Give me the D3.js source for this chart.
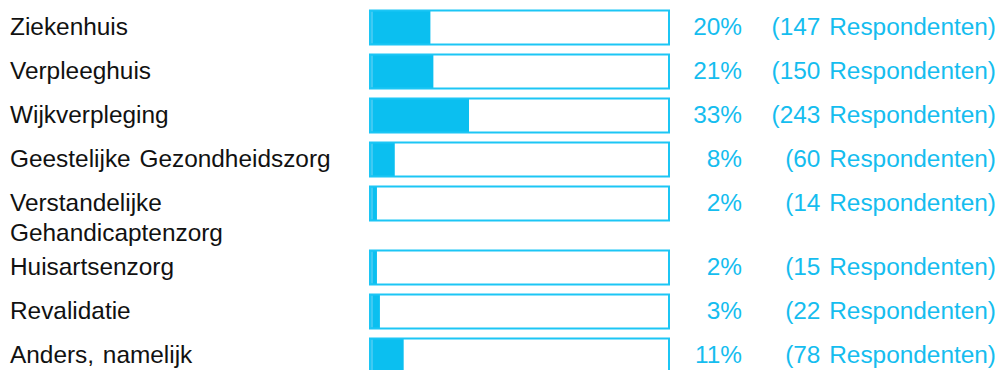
<!DOCTYPE html>
<html><head><meta charset="utf-8">
<script src="https://cdn.jsdelivr.net/npm/d3@7"></script>
<style>
html,body{margin:0;padding:0;background:#fff;}
svg{display:block;font-family:"Liberation Sans",Arial,sans-serif;}
</style></head>
<body>
<svg id="chart" width="1001" height="370"></svg>
<script>
const categories = ["Ziekenhuis","Verpleeghuis","Wijkverpleging","Geestelijke Gezondheidszorg","Verstandelijke Gehandicaptenzorg","Huisartsenzorg","Revalidatie","Anders, namelijk"];
const percentages = [20,21,33,8,2,2,3,11];
const respondents = [147,150,243,60,14,15,22,78];
const respLabel = "Respondenten";

const svg = d3.select("#chart");
const labelX = 10, labelMax = 350;
const boxX = 370, boxW = 299, boxH = 34;
const pctRight = 742, respRight = 996;
const lineH = 30, gap = 8, top0 = 9.5, baseY = 25;
const fontSize = 24.4, wordSp = 2;
const fillCol = "#0bbff0", strokeCol = "#1cc6f5", textCol = "#15bdef";

const x = d3.scaleLinear().domain([0,100]).range([0, boxW - 2]);

// wrap labels
const measure = svg.append("text").attr("font-size", fontSize).attr("word-spacing", wordSp);
function wrap(s){
  const words = s.split(" "); const lines = []; let cur = "";
  words.forEach(w => {
    const t = cur ? cur + " " + w : w;
    measure.text(t);
    if (measure.node().getComputedTextLength() > labelMax && cur) { lines.push(cur); cur = w; }
    else cur = t;
  });
  lines.push(cur); return lines;
}
const rows = categories.map((c,i) => ({c, p: percentages[i], r: respondents[i], lines: wrap(c)}));
measure.remove();

let y = top0;
rows.forEach(d => { d.top = y; const h = Math.max(boxH + 2, d.lines.length * lineH - 4); y += h + gap; });

const g = svg.selectAll("g.row").data(rows).join("g").attr("class","row")
  .attr("transform", d => `translate(0,${d.top})`);

g.append("rect").attr("x", boxX).attr("y", 1).attr("width", d => x(d.p) + 1).attr("height", boxH)
  .attr("fill", fillCol);
g.append("rect").attr("x", boxX + 1.5).attr("y", 2).attr("width", 1).attr("height", boxH - 2)
  .attr("fill", "#8fdcf7").attr("opacity", d => d.p > 0 ? 0.8 : 0);
g.append("rect").attr("x", boxX).attr("y", 1).attr("width", boxW).attr("height", boxH)
  .attr("fill", "none").attr("stroke", strokeCol).attr("stroke-width", 2);

const lab = g.append("text").attr("x", labelX).attr("y", baseY).attr("font-size", fontSize)
  .attr("word-spacing", wordSp).attr("fill", "#111");
lab.selectAll("tspan").data(d => d.lines).join("tspan")
  .attr("x", labelX).attr("dy", (d,i) => i ? lineH : 0).text(d => d);

g.append("text").attr("x", pctRight).attr("y", baseY).attr("font-size", fontSize)
  .attr("text-anchor","end").attr("fill", textCol).text(d => d.p + "%");
g.append("text").attr("x", respRight).attr("y", baseY).attr("font-size", fontSize)
  .attr("text-anchor","end").attr("word-spacing", wordSp).attr("fill", textCol)
  .text(d => `(${d.r} ${respLabel})`);
</script>
</body></html>
